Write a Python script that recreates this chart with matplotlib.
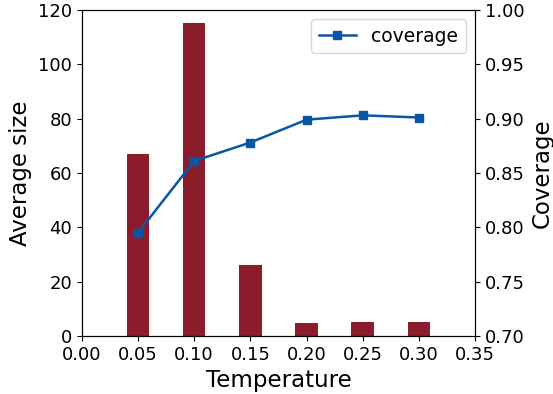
import matplotlib
matplotlib.use('Agg')
import matplotlib.pyplot as plt

temperature = [0.05, 0.10, 0.15, 0.20, 0.25, 0.30]
avg_size = [67, 115, 26.2, 4.8, 5.2, 5.2]
coverage = [0.795, 0.861, 0.878, 0.899, 0.903, 0.901]

fig, ax = plt.subplots(figsize=(5.53, 3.94), dpi=100)
ax.bar(temperature, avg_size, width=0.02, color='#8b1c2b')
ax.set_xlim(0, 0.35)
ax.set_ylim(0, 120)
ax.set_xticks([0.0, 0.05, 0.10, 0.15, 0.20, 0.25, 0.30, 0.35])
ax.set_xticklabels(['0.00', '0.05', '0.10', '0.15', '0.20', '0.25', '0.30', '0.35'])
ax.set_xlabel('Temperature', fontsize=16.5)
ax.set_ylabel('Average size', fontsize=16.5)
ax.tick_params(labelsize=13)

ax2 = ax.twinx()
ax2.plot(temperature, coverage, color='#0a56a6', marker='s', markersize=6,
         linewidth=1.8, label='coverage')
ax2.set_ylim(0.70, 1.00)
ax2.set_ylabel('Coverage', fontsize=16.5)
ax2.tick_params(labelsize=13)
ax2.legend(loc='upper right', fontsize=13.5)

fig.subplots_adjust(left=0.148, right=0.859, top=0.975, bottom=0.147)
plt.savefig('out.png', dpi=100)
